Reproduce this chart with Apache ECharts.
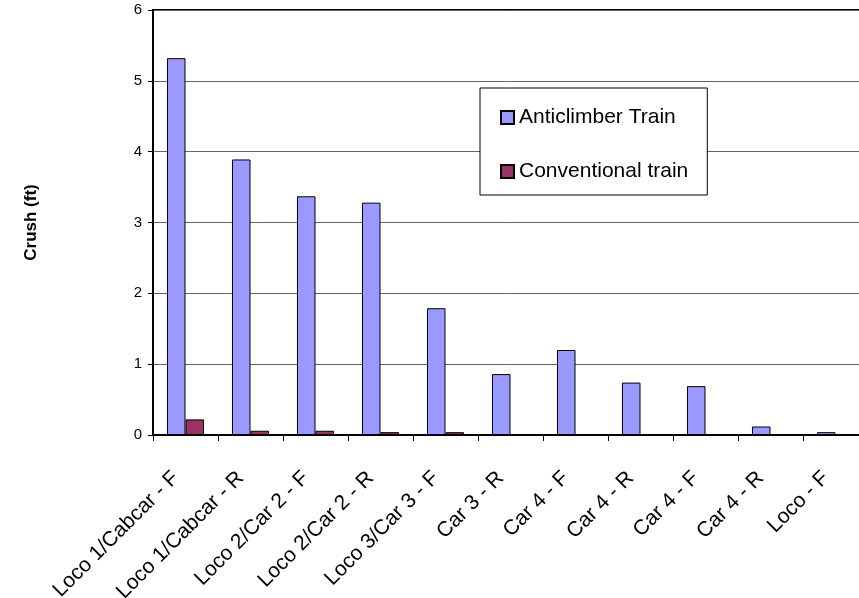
<!DOCTYPE html>
<html><head><meta charset="utf-8">
<script src="https://cdn.jsdelivr.net/npm/echarts@6/dist/echarts.min.js"></script>
<style>html,body{margin:0;padding:0;background:#fff}#c{width:859px;height:598px}</style>
</head><body><div id="c"></div>
<script>
const categories = ["Loco 1/Cabcar - F","Loco 1/Cabcar - R","Loco 2/Car 2 - F","Loco 2/Car 2 - R","Loco 3/Car 3 - F","Car 3 - R","Car 4 - F","Car 4 - R","Car 4 - F","Car 4 - R","Loco - F"];
const anticlimber = [5.32,3.89,3.37,3.28,1.79,0.86,1.20,0.74,0.69,0.12,0.04];
const conventional = [0.22,0.06,0.06,0.04,0.04,0,0,0,0,0,0];
const seriesNames = ["Anticlimber Train","Conventional train"];
const yTicks = {min:0,max:6,interval:1};

const font = "'Liberation Sans', Arial, sans-serif";
const chart = echarts.init(document.getElementById('c'));
chart.setOption({
  animation:false,
  textStyle:{fontFamily:font,color:'#000'},
  grid:{left:153,top:10,height:425,width:715,outerBoundsMode:'none',containLabel:false,show:true,borderColor:'#000',borderWidth:2,backgroundColor:'transparent'},
  legend:{
    orient:'vertical',left:480,top:88,
    padding:[19,19,13,20],itemGap:33,
    backgroundColor:'#fff',borderColor:'#000',borderWidth:1,
    icon:'rect',itemWidth:13,itemHeight:13,
    textStyle:{fontFamily:font,fontSize:21,color:'#000'},
    data:seriesNames
  },
  xAxis:{
    type:'category',data:categories,
    axisLine:{lineStyle:{color:'#000',width:2}},
    axisTick:{show:true,length:6,lineStyle:{color:'#000',width:1}},
    axisLabel:{rotate:45,interval:0,fontSize:21,color:'#000',fontFamily:font,margin:30,padding:[0,14,0,0]}
  },
  yAxis:{
    type:'value',min:yTicks.min,max:yTicks.max,interval:yTicks.interval,
    name:'Crush (ft)',nameLocation:'middle',nameGap:113,nameRotate:90,
    nameTextStyle:{fontFamily:font,fontSize:17,fontWeight:'bold',color:'#000'},
    axisLine:{show:true,lineStyle:{color:'#000',width:2}},
    axisTick:{show:true,length:5,lineStyle:{color:'#000'}},
    axisLabel:{fontSize:15,color:'#000',fontFamily:font,margin:11},
    splitLine:{lineStyle:{color:'#666',width:1}}
  },
  series:[
    {name:seriesNames[0],type:'bar',data:anticlimber,barGap:'0%',barCategoryGap:'43%',
     itemStyle:{color:'#9999FF',borderColor:'#000',borderWidth:1}},
    {name:seriesNames[1],type:'bar',data:conventional,
     itemStyle:{color:'#993366',borderColor:'#000',borderWidth:1}}
  ]
});
</script></body></html>
